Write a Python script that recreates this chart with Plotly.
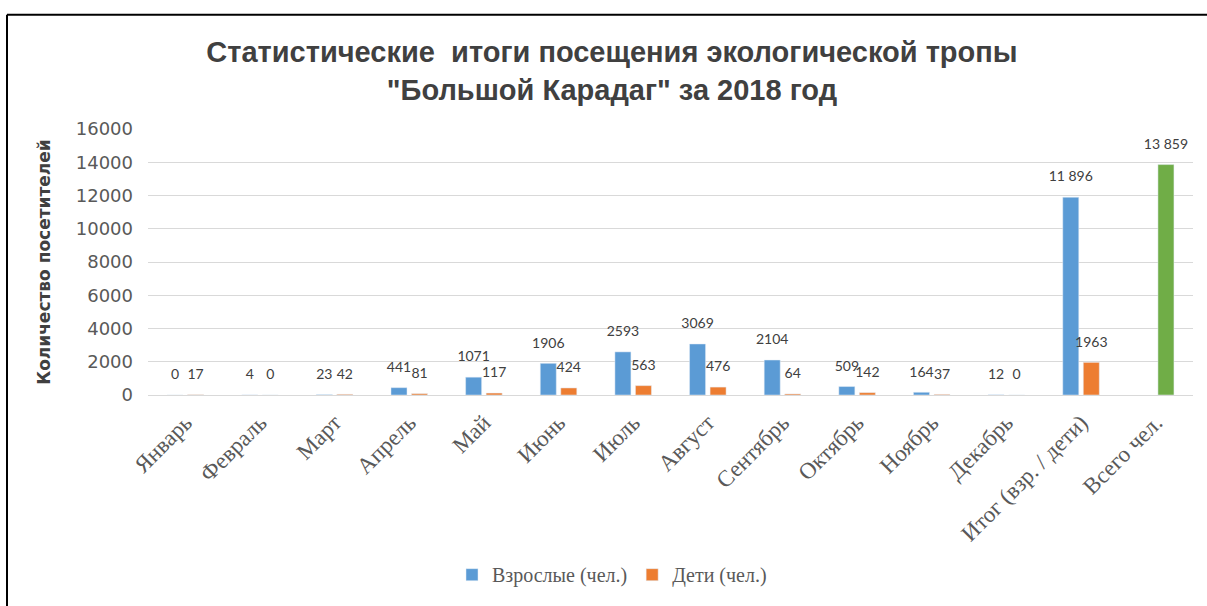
import plotly.graph_objects as go

categories = ["Январь", "Февраль", "Март", "Апрель", "Май", "Июнь", "Июль",
              "Август", "Сентябрь", "Октябрь", "Ноябрь", "Декабрь",
              "Итог (взр. / дети)", "Всего чел."]
adults = [0, 4, 23, 441, 1071, 1906, 2593, 3069, 2104, 509, 164, 12, 11896, None]
children = [17, 0, 42, 81, 117, 424, 563, 476, 64, 142, 37, 0, 1963, 13859]
y_ticks = [0, 2000, 4000, 6000, 8000, 10000, 12000, 14000, 16000]
y_tick_labels = ["0", "2000", "4000", "6000", "8000", "10000", "12000", "14000", "16000"]

BLUE = "#5B9BD5"
ORANGE = "#ED7D31"
GREEN = "#70AD47"


def fmt(v):
    if v is None:
        return ""
    if v >= 10000:
        return f"{v:,}".replace(",", " ")
    return str(v)


child_colors = [ORANGE] * (len(children) - 1) + [GREEN]

label_font = dict(family="Lato, Open Sans, sans-serif", size=14, color="#404040")

fig = go.Figure()
fig.add_trace(go.Bar(
    x=categories, y=adults, name="Взрослые (чел.)",
    marker=dict(color=BLUE), offsetgroup="a", hoverinfo="x+y",
))
fig.add_trace(go.Bar(
    x=categories, y=children, name="Дети (чел.)",
    marker=dict(color=child_colors), offsetgroup="c", hoverinfo="x+y",
))
# data labels (invisible markers push the text above the bar tops)
for vals, grp in ((adults, "a"), (children, "c")):
    fig.add_trace(go.Scatter(
        x=categories, y=vals, mode="markers+text", offsetgroup=grp,
        text=[fmt(v) for v in vals], textposition="top center",
        textfont=label_font, marker=dict(size=18, opacity=0),
        showlegend=False, hoverinfo="skip", cliponaxis=False,
    ))

L, R, T, B = 148, 14, 129, 209
W, H = 1207, 606
pw, ph = W - L - R, H - T - B


def px_x(p):
    return (p - L) / pw


def px_y(p):
    return (H - B - p) / ph


fig.update_layout(
    width=W, height=H,
    margin=dict(l=L, r=R, t=T, b=B),
    paper_bgcolor="white", plot_bgcolor="white",
    barmode="group", bargap=0.45, bargroupgap=0.22,
    scattermode="group", scattergap=0.45,
    title=dict(
        text="Статистические  итоги посещения экологической тропы<br>\"Большой Карадаг\" за 2018 год",
        font=dict(family="Liberation Sans Narrow, Arial Narrow, sans-serif", size=29, color="#404040", weight="bold"),
        x=0.507, xref="container", xanchor="center",
        y=1 - 62 / H, yref="container", yanchor="top",
    ),
    xaxis=dict(
        tickangle=-45,
        tickfont=dict(family="Liberation Serif, serif", size=23, color="#595959"),
        showline=True, linecolor="#d9d9d9", linewidth=1,
        showgrid=False, ticks="", ticklabelstandoff=4,
    ),
    yaxis=dict(
        range=[0, 16000], tickvals=y_ticks, ticktext=y_tick_labels,
        tickfont=dict(family="DejaVu Sans, sans-serif", size=18, color="#595959"),
        showgrid=True, gridcolor="#d9d9d9", gridwidth=1,
        zeroline=False, showline=False, ticks="",
        ticklabelstandoff=14,
        title=dict(text="Количество посетителей",
                   font=dict(family="DejaVu Sans, sans-serif", size=17, color="#404040", weight="bold"),
                   standoff=20),
    ),
    legend=dict(
        orientation="h", x=px_x(612), xanchor="center",
        y=px_y(578), yanchor="middle",
        font=dict(family="Liberation Serif, serif", size=20, color="#595959"),
        itemwidth=30,
    ),
    shapes=[
        dict(type="line", xref="paper", yref="paper",
             x0=px_x(7), x1=px_x(1210), y0=px_y(14), y1=px_y(14),
             line=dict(color="black", width=2)),
        dict(type="line", xref="paper", yref="paper",
             x0=px_x(7), x1=px_x(7), y0=px_y(14), y1=px_y(610),
             line=dict(color="black", width=2)),
    ],
)

fig.write_html("out.html")
